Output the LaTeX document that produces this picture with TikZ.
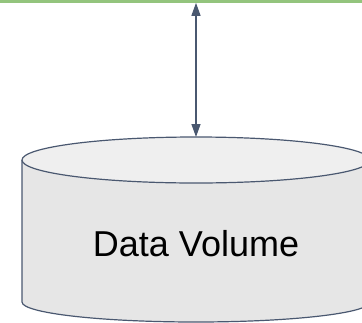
\documentclass[tikz,border=0pt]{standalone}
\usepackage{fontspec}
\setmainfont{Liberation Sans}
\usetikzlibrary{arrows.meta}
\definecolor{edgeblue}{HTML}{4A5870}
\definecolor{busgreen}{HTML}{93C47D}
\definecolor{topgray}{HTML}{EFEFEF}
\definecolor{bodygray}{HTML}{E6E6E6}
\begin{document}
\begin{tikzpicture}[>={Triangle[length=13pt,width=9pt]},x=1pt,y=-1pt]
			\def\cx{196} % tâm trụ
			\def\rx{174}
			\def\ry{23}
			\useasboundingbox (0,0) rectangle (362,322);
			\clip (0,0) rectangle (362,322);
			\draw[busgreen,line width=3.4pt] (0,1) -- (362,1);
			% thân trụ
			\draw[edgeblue,line width=1.2pt,fill=bodygray] (\cx-\rx,160) -- (\cx-\rx,302)
			arc[start angle=180,end angle=360,x radius=\rx,y radius=-20] -- (\cx+\rx,160);
			\draw[edgeblue,line width=1.2pt,fill=topgray] (\cx,160) ellipse[x radius=\rx,y radius=\ry];
			\node[font=\fontsize{36}{40}\selectfont] (vol) at (\cx,244) {Data Volume};
			\coordinate (volTop) at (\cx,160-\ry);
			\coordinate (bus) at (\cx,2.8);
			\draw[<->,edgeblue,line width=1.3pt] (bus) -- (volTop);
		\end{tikzpicture}
\end{document}
